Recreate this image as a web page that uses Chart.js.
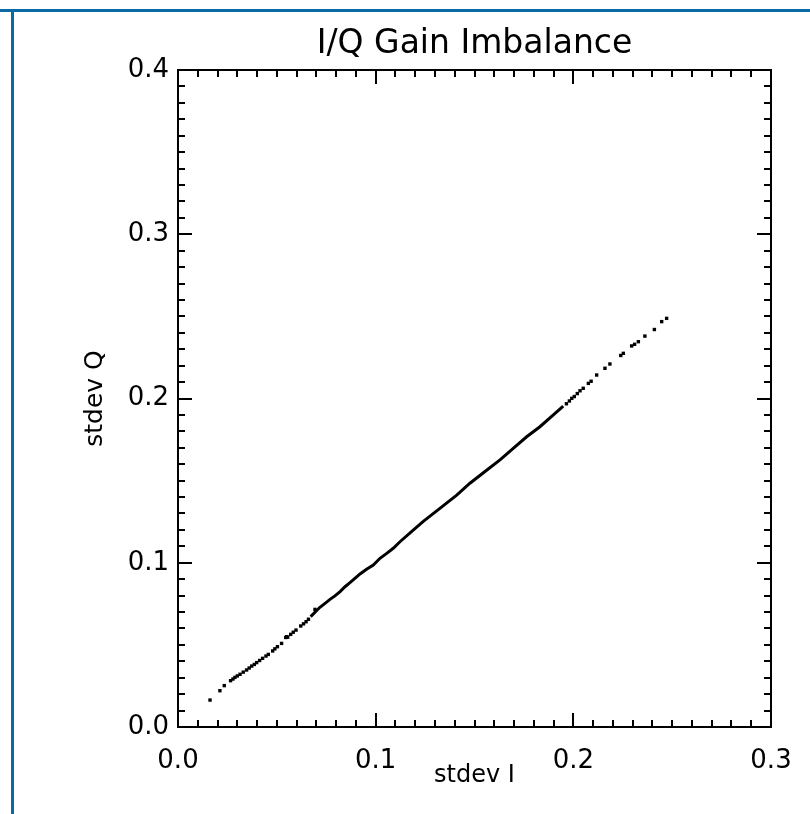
<!DOCTYPE html>
<html><head><meta charset="utf-8">
<script src="https://cdn.jsdelivr.net/npm/chart.js@4.4.1/dist/chart.umd.min.js"></script>
<style>
html,body{margin:0;padding:0;background:#fff;}
#wrap{position:relative;width:810px;height:814px;overflow:hidden;background:#fff;}
#c{position:absolute;left:0;top:0;}
.fb{position:absolute;background:#0b69a3;}
</style></head><body>
<div id="wrap"><canvas id="c" width="810" height="814"></canvas>
<div class="fb" style="left:0;top:9px;width:810px;height:3px"></div>
<div class="fb" style="left:11px;top:9px;width:3px;height:805px"></div>
</div>
<script>
const chartTitle = 'I/Q Gain Imbalance';
const xTitle = 'stdev I';
const yTitle = 'stdev Q';
const xTickLabels = ['0.0', '0.1', '0.2', '0.3'];
const yTickLabels = ['0.0', '0.1', '0.2', '0.3', '0.4'];

// sparse points, low end
const lowI = [0.0162,0.0212,0.0234,0.0266,0.0278,0.0288,0.0300,0.0314,0.0330,0.0347,0.0360,0.0373,0.0386,0.0398,0.0413,0.0428,0.0445,0.0457,0.0479,0.0490,0.0503,0.0524,0.0545,0.0550,0.0555,0.0570,0.0583,0.0597,0.0621,0.0635,0.0648,0.0660,0.0693];
const lowQ = [0.0164,0.0221,0.0252,0.0282,0.0292,0.0302,0.0311,0.0321,0.0334,0.0347,0.0359,0.0371,0.0381,0.0392,0.0405,0.0418,0.0432,0.0442,0.0463,0.0476,0.0489,0.0509,0.0545,0.0550,0.0547,0.0564,0.0577,0.0590,0.0615,0.0628,0.0641,0.0656,0.0716];

// dense core of the cloud
const coreI = [0.0671,0.0718,0.0744,0.0769,0.0794,0.0820,0.0845,0.0870,0.0895,0.0921,0.0954,0.0988,0.1022,0.1056,0.1089,0.1123,0.1190,0.1241,0.1325,0.1410,0.1477,0.1558,0.1629,0.1696,0.1764,0.1831,0.1899,0.1949];
const coreQ = [0.0672,0.0729,0.0753,0.0777,0.0798,0.0824,0.0854,0.0879,0.0905,0.0932,0.0960,0.0986,0.1027,0.1057,0.1088,0.1128,0.1199,0.1252,0.1331,0.1412,0.1484,0.1560,0.1626,0.1697,0.1767,0.1828,0.1900,0.1954];

// sparse points, high end
const highI = [0.1965,0.1980,0.1992,0.2005,0.2020,0.2034,0.2050,0.2076,0.2090,0.2118,0.2160,0.2185,0.2240,0.2253,0.2295,0.2310,0.2329,0.2362,0.2410,0.2447,0.2472];
const highQ = [0.1968,0.1985,0.2001,0.2012,0.2030,0.2047,0.2062,0.2092,0.2105,0.2143,0.2184,0.2210,0.2262,0.2275,0.2320,0.2330,0.2346,0.2380,0.2420,0.2468,0.2488];

const toPts = (xs, ys) => xs.map((v, i) => ({x: v, y: ys[i]}));

const frameTicks = {
  id: 'frameTicks',
  afterDatasetsDraw(chart) {
    const {ctx, chartArea: a, scales: {x, y}} = chart;
    ctx.save();
    ctx.strokeStyle = '#000';
    ctx.lineWidth = 2;
    ctx.beginPath();
    for (let i = 0; i <= 30; i++) {
      const px = Math.round(x.getPixelForValue(i / 100));
      const L = i % 10 === 0 ? 14 : 7;
      ctx.moveTo(px, a.bottom); ctx.lineTo(px, a.bottom - L);
      ctx.moveTo(px, a.top); ctx.lineTo(px, a.top + L);
    }
    for (let i = 0; i <= 40; i++) {
      const py = Math.round(y.getPixelForValue(i / 100));
      const L = i % 10 === 0 ? 14 : 7;
      ctx.moveTo(a.left, py); ctx.lineTo(a.left + L, py);
      ctx.moveTo(a.right, py); ctx.lineTo(a.right - L, py);
    }
    ctx.stroke();
    ctx.strokeRect(a.left, a.top, a.right - a.left, a.bottom - a.top);
    ctx.restore();
  }
};

Chart.defaults.color = '#000';
Chart.defaults.font.family = "'DejaVu Sans', sans-serif";

new Chart(document.getElementById('c'), {
  type: 'scatter',
  data: {
    datasets: [
      {data: toPts(coreI, coreQ), showLine: true, borderColor: '#000', borderWidth: 3, pointRadius: 0, tension: 0},
      {data: toPts(lowI, lowQ), pointStyle: 'rect', pointRadius: 2.4, backgroundColor: '#000', borderWidth: 0},
      {data: toPts(highI, highQ), pointStyle: 'rect', pointRadius: 2.4, backgroundColor: '#000', borderWidth: 0}
    ]
  },
  options: {
    responsive: false,
    animation: false,
    devicePixelRatio: 1,
    layout: {padding: {left: 0, right: 39, top: 0, bottom: 0}},
    plugins: {legend: {display: false}, tooltip: {enabled: false}, title: {display: false}},
    scales: {
      x: {
        type: 'linear', position: 'bottom', min: 0, max: 0.3,
        afterFit(s) { s.height = 87; },
        grid: {display: false}, border: {display: false},
        ticks: {stepSize: 0.1, padding: 11, font: {size: 26}, maxRotation: 0, callback: (v, i) => xTickLabels[i]},
        title: {display: true, text: xTitle, font: {size: 24}, padding: {top: 0, bottom: 24}}
      },
      x2: {
        type: 'linear', position: 'top', min: 0, max: 0.3,
        afterFit(s) { s.height = 70; },
        grid: {display: false}, border: {display: false},
        ticks: {display: false},
        title: {display: true, text: chartTitle, font: {size: 33}, padding: {top: 25, bottom: 0}}
      },
      y: {
        type: 'linear', position: 'left', min: 0, max: 0.4,
        afterFit(s) { s.width = 178; },
        grid: {display: false}, border: {display: false},
        ticks: {stepSize: 0.1, padding: 1, font: {size: 26}, callback: (v, i) => yTickLabels[i]},
        title: {display: true, text: yTitle, font: {size: 25}, padding: {top: 80, bottom: 0}}
      }
    }
  },
  plugins: [frameTicks]
});
</script>
</body></html>
